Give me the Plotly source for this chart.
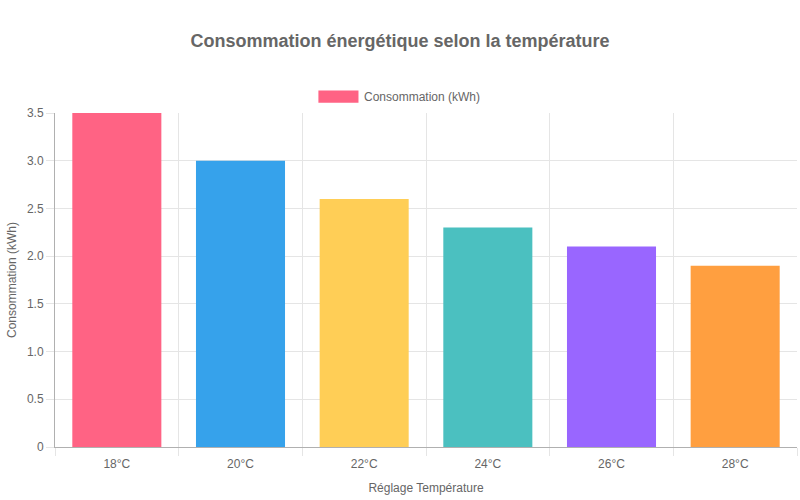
import plotly.graph_objects as go

# Chart data
temperatures = ["18°C", "20°C", "22°C", "24°C", "26°C", "28°C"]
consumption = [3.5, 3.0, 2.6, 2.3, 2.1, 1.9]
bar_colors = ["#FF6384", "#36A2EB", "#FFCE56", "#4BC0C0", "#9966FF", "#FF9F40"]
y_ticks = [0, 0.5, 1.0, 1.5, 2.0, 2.5, 3.0, 3.5]
y_tick_labels = ["0", "0.5", "1.0", "1.5", "2.0", "2.5", "3.0", "3.5"]
series_name = "Consommation (kWh)"

font_family = "Liberation Sans, Arial, sans-serif"
text_color = "#666666"
grid_color = "#e5e5e5"

fig = go.Figure()
fig.add_trace(go.Bar(
    x=temperatures,
    y=consumption,
    name=series_name,
    marker=dict(color=bar_colors, line=dict(width=0)),
    width=0.72,
    showlegend=False,
))

# Legend drawn like Chart.js: wide colour box + label
fig.add_shape(type="rect", xref="paper", yref="paper",
              x0=0.355, x1=0.409, y0=1.031, y1=1.067,
              fillcolor=bar_colors[0], line=dict(width=0))
fig.add_annotation(text=series_name, xref="paper", yref="paper",
                   x=0.414, y=1.049, xanchor="left", yanchor="middle",
                   showarrow=False, font=dict(size=12, color=text_color))

fig.update_layout(
    width=800, height=500, autosize=False,
    margin=dict(l=55, r=3, t=113, b=53, autoexpand=False),
    paper_bgcolor="white", plot_bgcolor="white",
    font=dict(family=font_family, size=12, color=text_color),
    title=dict(text="<b>Consommation énergétique selon la température</b>",
               x=0.5, xanchor="center", y=0.918, yanchor="middle",
               font=dict(size=18, color=text_color)),
    bargap=0.28,
)
fig.update_xaxes(
    type="category",
    tickson="boundaries",
    showgrid=True, gridcolor=grid_color,
    ticks="outside", ticklen=8, tickcolor=grid_color,
    showline=True, linecolor="#b0b0b0",
    ticklabelstandoff=6,
    automargin=False,
    title=dict(text="Réglage Température", standoff=13, font=dict(size=12)),
    range=[-0.5, 5.5],
)
fig.update_yaxes(
    range=[0, 3.5],
    tickvals=y_ticks, ticktext=y_tick_labels,
    showgrid=True, gridcolor=grid_color,
    ticks="outside", ticklen=8, tickcolor=grid_color,
    showline=True, linecolor="#b0b0b0",
    zeroline=False,
    automargin=False,
    title=dict(text="Consommation (kWh)", standoff=7, font=dict(size=12)),
)

fig.write_html("out.html",
               config={"displayModeBar": False},
               post_script="document.body.style.margin='0';document.body.style.overflow='hidden';")
